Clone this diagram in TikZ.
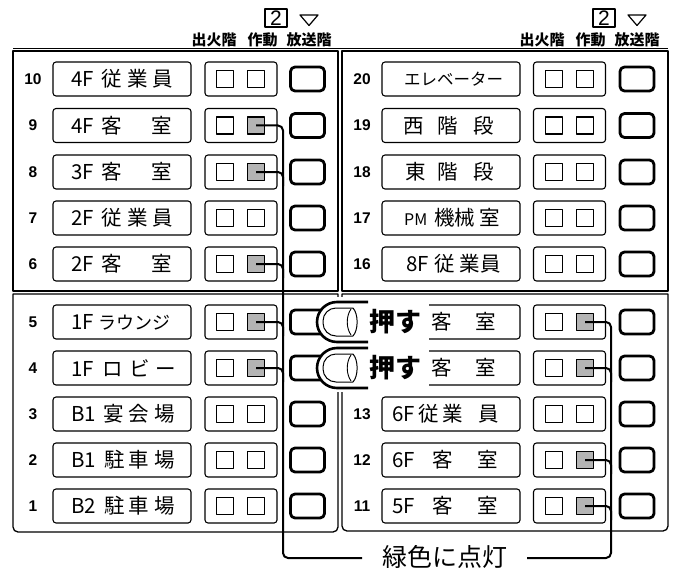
\documentclass[tikz,border=0pt]{standalone}
\usepackage{fontspec}
\setmainfont{Liberation Sans}
\newfontfamily\jp{Noto Sans CJK JP}
\usetikzlibrary{calc}
\definecolor{litgray}{HTML}{B4B4B4}
\begin{document}
\begin{tikzpicture}[x=1pt,y=-1pt,line join=round,
  panel/.style={draw=black,line width=1.3pt},
  box/.style={draw=black,line width=1.1pt,rounded corners=3pt,minimum height=34pt,inner sep=0},
  btn/.style={draw=black,line width=2.8pt,rounded corners=4.5pt,minimum width=34pt,minimum height=24pt,inner sep=0},
  sq/.style={draw=black,line width=1.1pt,minimum width=17pt,minimum height=17pt,inner sep=0},
  lit/.style={sq,fill=litgray},
  conn/.style={draw=black,line width=2pt,rounded corners=5pt},
  num/.style={font=\bfseries\fontsize{15.5pt}{15.5pt}\selectfont,inner sep=0},
  lbl/.style={font=\jp\fontsize{20.5pt}{20.5pt}\selectfont,anchor=west,inner sep=0},
  head/.style={font=\jp\bfseries\fontsize{15pt}{15pt}\selectfont,inner sep=0},
  digbox/.style={draw=black,line width=1.1pt,minimum width=22pt,minimum height=18pt,inner sep=0,font=\fontsize{21pt}{21pt}\selectfont},
  push/.style={font=\jp\bfseries\fontsize{26pt}{26pt}\selectfont,inner sep=0}]
\useasboundingbox[fill=white] (0,0) rectangle (676,572);

% header
\draw[line width=0.8pt] (13,48) -- (668,48);
\foreach \dx/\s in {0/L,328/R}{
  \node[head] (hA\s) at (214+\dx,40) {出火階};
  \node[head] (hB\s) at (262.5+\dx,40) {作動};
  \node[head] (hC\s) at (309+\dx,40) {放送階};
  \node[digbox] (two\s) at (276+\dx,18) {2};
  \draw[line width=1.2pt] (300+\dx,15) -- (318+\dx,15) -- (309+\dx,25.5) -- cycle;
}

% panels
\draw[panel] (13,51) rectangle (338,291);
\draw[panel] (342,51) rectangle (668,291);
\draw[panel] (13,294) -- (338,294) [rounded corners=5pt]-- (338,532) -- (13,532) [sharp corners]-- cycle;
\draw[panel] (342,294) -- (668,294) [rounded corners=5pt]-- (668,531) -- (342,531) [sharp corners]-- cycle;

% left column rows
\foreach \n/\y/\s in {10/79/sq,9/125.5/lit,8/172/lit,7/218/sq,6/264/lit,5/322/lit,4/368/lit,3/414/sq,2/460/sq,1/506/sq}{
  \node[num] (no\n) at (33,\y) {\n};
  \node[box,minimum width=138pt] (nb\n) at (122,\y) {};
  \node[box,minimum width=72pt] (ib\n) at (241,\y) {};
  \node[sq] (sa\n) at (225,\y) {};
  \node[\s] (sb\n) at (256,\y) {};
  \node[btn] (bt\n) at (307.5,\y) {};
}
% right column rows
\foreach \n/\y/\s in {20/79/sq,19/125.5/sq,18/172/sq,17/218/sq,16/264/sq,15/322/lit,14/368/lit,13/414/sq,12/460/lit,11/506/lit}{
  \node[box,minimum width=138pt] (nb\n) at (451,\y) {};
  \node[box,minimum width=72pt] (ib\n) at (569.5,\y) {};
  \node[sq] (sa\n) at (554,\y) {};
  \node[\s] (sb\n) at (585,\y) {};
  \node[btn] (bt\n) at (637,\y) {};
}
\foreach \n/\y in {20/79,19/125.5,18/172,17/218,16/264,13/414,12/460,11/506}{
  \node[num] (no\n) at (362,\y) {\n};
}

% handwritten labels, left
\node[lbl] (t10) at (71,79) {4F\hspace{8pt}従\hspace{5pt}業\hspace{5pt}員};
\node[lbl] (t9) at (71,125.5) {4F\hspace{8pt}客\hspace{29pt}室};
\node[lbl] (t8) at (71,172) {3F\hspace{8pt}客\hspace{29pt}室};
\node[lbl] (t7) at (71,218) {2F\hspace{8pt}従\hspace{5pt}業\hspace{5pt}員};
\node[lbl] (t6) at (71,264) {2F\hspace{8pt}客\hspace{29pt}室};
\node[lbl] (t5) at (71,322) {1F\hspace{5pt}{\fontsize{18pt}{18pt}\selectfont ラウンジ}};
\node[lbl] (t4) at (71,368) {1F\hspace{9pt}ロ\hspace{6pt}ビ\hspace{6pt}ー};
\node[lbl] (t3) at (71,414) {B1\hspace{7pt}宴\hspace{5pt}会\hspace{5pt}場};
\node[lbl] (t2) at (71,460) {B1\hspace{8pt}駐\hspace{4pt}車\hspace{5pt}場};
\node[lbl] (t1) at (71,506) {B2\hspace{8pt}駐\hspace{4pt}車\hspace{5pt}場};
% handwritten labels, right
\node[lbl,font=\jp\fontsize{16.5pt}{16.5pt}\selectfont] (t20) at (404,79) {エレベーター};
\node[lbl] (t19) at (403,125.5) {西\hspace{14pt}階\hspace{15pt}段};
\node[lbl] (t18) at (405,172) {東\hspace{12pt}階\hspace{15pt}段};
\node[lbl] (t17) at (404,218) {{\fontsize{16pt}{16pt}\selectfont PM}\hspace{7pt}機械\hspace{4pt}室};
\node[lbl] (t16) at (406,264) {8F\hspace{6pt}従\hspace{4pt}業\hspace{1pt}員};
\node[lbl] (t15) at (431,322) {客\hspace{24pt}室};
\node[lbl] (t14) at (431,368) {客\hspace{24pt}室};
\node[lbl] (t13) at (392,414) {6F\hspace{4pt}従\hspace{3pt}業\hspace{16pt}員};
\node[lbl] (t12) at (392,460) {6F\hspace{18pt}客\hspace{24pt}室};
\node[lbl] (t11) at (392,506) {5F\hspace{18pt}客\hspace{24pt}室};

% connectors
\coordinate (lbot) at (283,558);
\coordinate (lend) at (362,558);
\coordinate (rbot) at (611,558);
\coordinate (rend) at (527,558);
\draw[conn] (sb9.center) -| (lbot) -- (lend);
\foreach \n in {8,6,5,4}{ \draw[conn] (sb\n.center) -- ++(27,0) -- ++(0,14); }
\draw[conn] (sb15.center) -| (rbot) -- (rend);
\foreach \n in {14,12,11}{ \draw[conn] (sb\n.center) -- ++(26,0) -- ++(0,14); }
\node[font=\jp\fontsize{25pt}{25pt}\selectfont,inner sep=0] (green) at (445,557) {緑色に点灯};

% finger overlay
\fill[white] (331,297) rectangle (429,392);
\foreach \y/\s in {322/a,368/b}{
  \fill[white,rounded corners=20pt] (368,\y-20) -- (317,\y-20) -- (317,\y+20) -- (368,\y+20) -- cycle;
  \draw[line width=2.6pt,rounded corners=20pt] (368,\y-20) -- (317,\y-20) -- (317,\y+20) -- (368,\y+20);
  \draw[line width=1pt,rounded corners=13pt] (353,\y-14) -- (323,\y-14) -- (323,\y+14) -- (353,\y+14);
  \draw[line width=1pt] (353,\y+14) .. controls (358.5,\y+8) and (358.5,\y-8) .. (353,\y-14);
  \draw[line width=0.9pt] (351,\y-13) .. controls (346,\y-6) and (346,\y+6) .. (351,\y+13);
  \node[push] (push\s) at (395,\y) {押す};
}
\end{tikzpicture}
\end{document}
